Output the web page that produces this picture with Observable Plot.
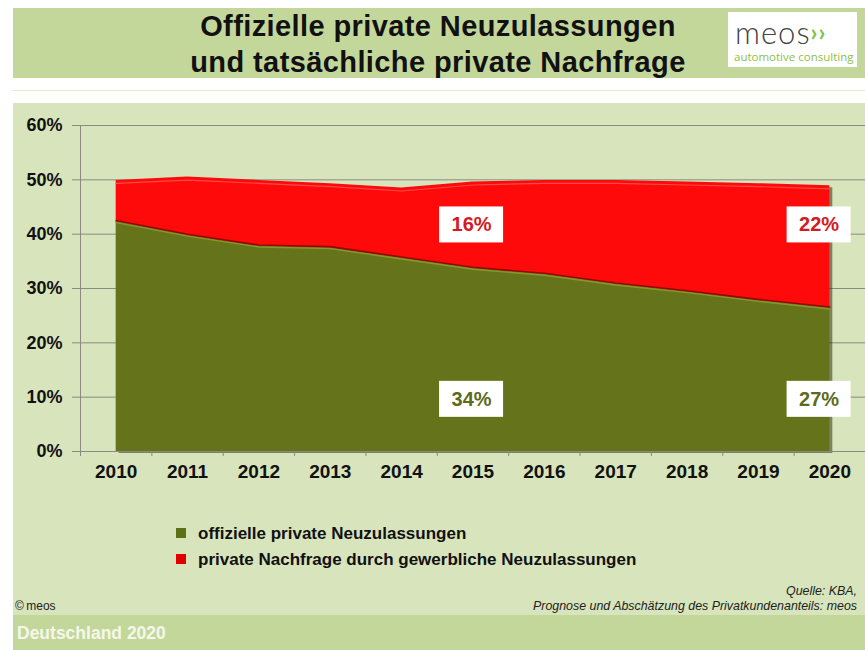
<!DOCTYPE html>
<html>
<head>
<meta charset="utf-8">
<script src="https://cdn.jsdelivr.net/npm/d3@7"></script>
<script src="https://cdn.jsdelivr.net/npm/@observablehq/plot@0.6"></script>
<style>
  html, body { margin: 0; padding: 0; background: #ffffff; }
  body { font-family: "Liberation Sans", Arial, sans-serif; }
  #page { position: relative; width: 865px; height: 650px; overflow: hidden; background: #ffffff; }
  .abs { position: absolute; }
  #titleband { left: 13px; top: 8px; width: 852px; height: 70px; background: #c4d79b; }
  #title { left: 0; top: 8px; width: 865px; height: 70px; }
  #title div { position: absolute; left: 0; width: 876px; text-align: center; font-weight: bold; font-size: 29px; line-height: 34px; color: #111; letter-spacing: 0.4px; }
  #strip1 { left: 13px; top: 90px; width: 852px; height: 1px; background: #e2e8cc; }
  #chartbg { left: 13px; top: 103px; width: 852px; height: 512px; background: #d8e4bc; }
  #footer { left: 13px; top: 615px; width: 852px; height: 35px; background: #c4d79b; }
  #footer span { position: absolute; left: 4px; top: 8px; color: #f4f8ea; font-size: 17.5px; font-weight: bold; }
  #logo { left: 728px; top: 12px; width: 129px; height: 55px; background: #ffffff; }
  #chart { left: 0; top: 104px; }
  .leg { position: absolute; left: 176px; font-size: 17px; font-weight: bold; color: #111; }
  .leg i { display: inline-block; width: 10px; height: 10px; margin-right: 12px; vertical-align: 1px; }
  .src { position: absolute; right: 8px; font-size: 12.4px; font-style: italic; color: #222; }
</style>
</head>
<body>
<div id="page">
  <div id="titleband" class="abs"></div>
  <div id="title" class="abs">
    <div style="top:1px">Offizielle private Neuzulassungen</div>
    <div style="top:37px">und tatsächliche private Nachfrage</div>
  </div>
  <div id="logo" class="abs">
    <div style="position:absolute;left:7px;top:6px;line-height:28px;font-family:Lato,'Open Sans',sans-serif;font-weight:300;font-size:31px;color:#444;letter-spacing:1px;">meos<span style="color:#7cc242;font-weight:bold;font-size:24px;vertical-align:3px;">&#8250;&#8250;</span></div>
    <div style="position:absolute;left:6px;top:38px;line-height:13px;font-family:'Open Sans',Lato,sans-serif;font-size:11.5px;color:#8cc04a;">automotive consulting</div>
  </div>
  <div id="strip1" class="abs"></div>
  <div id="chartbg" class="abs"></div>
  <div id="chart" class="abs"></div>
  <div class="leg" style="top:524px"><i style="background:#5f6f16"></i>offizielle private Neuzulassungen</div>
  <div class="leg" style="top:550px"><i style="background:#e00000"></i>private Nachfrage durch gewerbliche Neuzulassungen</div>
  <div class="src" style="top:584px">Quelle: KBA,</div>
  <div class="src" style="top:599px">Prognose und Abschätzung des Privatkundenanteils: meos</div>
  <div class="abs" style="left:15px;top:599px;font-size:12px;color:#222;">©&thinsp;meos</div>
  <div id="footer" class="abs"><span>Deutschland 2020</span></div>
</div>
<script>
// ---- data (percent of all new registrations) ----
const years = [2010, 2011, 2012, 2013, 2014, 2015, 2016, 2017, 2018, 2019, 2020];
const officialPrivate = [42.5, 40.0, 38.0, 37.7, 35.8, 33.9, 32.8, 31.0, 29.6, 28.0, 26.6];
const commercialPrivate = [7.4, 10.5, 11.9, 11.6, 12.7, 15.7, 17.1, 18.9, 20.0, 21.3, 22.3];
const seriesNames = ["offizielle private Neuzulassungen", "private Nachfrage durch gewerbliche Neuzulassungen"];
const yTicks = [0, 10, 20, 30, 40, 50, 60];
const labelYears = [2015, 2020];

// ---- tables built from the arrays ----
const table = years.flatMap((yr, i) => [
  {year: yr, series: seriesNames[0], value: officialPrivate[i]},
  {year: yr, series: seriesNames[1], value: commercialPrivate[i]}
]);
const totals = years.map((yr, i) => ({year: yr, official: officialPrivate[i], total: officialPrivate[i] + commercialPrivate[i]}));
const bounds = [...years.map(y => y - 0.5), years[years.length - 1] + 0.5];
const lastYear = years[years.length - 1];
const labelX = yr => yr === lastYear ? yr - 0.15 : yr - 0.02;
const redLabels = labelYears.map(yr => {
  const i = years.indexOf(yr);
  return {x: labelX(yr), y: 41.7, text: Math.round(commercialPrivate[i]) + "%"};
});
const greenLabels = labelYears.map(yr => {
  const i = years.indexOf(yr);
  return {x: labelX(yr), y: 9.6, text: Math.round(officialPrivate[i]) + "%"};
});
const allLabels = [...redLabels, ...greenLabels];

const plot = Plot.plot({
  width: 865,
  height: 390,
  marginTop: 21,
  marginBottom: 43,
  marginLeft: 80,
  marginRight: 0,
  style: {background: "transparent", fontFamily: "'Liberation Sans', Arial, sans-serif"},
  x: {type: "linear", domain: [bounds[0], bounds[bounds.length - 1]]},
  y: {domain: [0, 60]},
  color: {domain: seriesNames, range: ["#65731a", "#ff0a0a"]},
  marks: [
    Plot.gridY(yTicks, {stroke: "#8a8a80", strokeOpacity: 1}),
    // shadow
    Plot.areaY(totals, {x: "year", y: "total", fill: "#2f3210", fillOpacity: 0.55, dx: 3, dy: 2}),
    Plot.areaY(table, Plot.stackY({x: "year", y: "value", fill: "series", order: seriesNames})),
    Plot.lineY(totals, {x: "year", y: "total", stroke: "#ff4a4a", strokeWidth: 1.2, dy: 3}),
    Plot.lineY(totals, {x: "year", y: "official", stroke: "#a10000", strokeWidth: 1.6}),
    Plot.lineY(totals, {x: "year", y: "official", stroke: "#86982c", strokeWidth: 1.4, dy: 2}),
    Plot.ruleX([bounds[0]], {stroke: "#8a8a80"}),
    Plot.ruleY([0], {stroke: "#8a8a80"}),
    Plot.axisY({ticks: yTicks, tickSize: 8, tickPadding: 10, tickFormat: d => d + "%", label: null,
      stroke: "#8a8a80", fill: "#111", fontSize: 18, fontWeight: "bold"}),
    Plot.axisX({ticks: bounds, tickSize: 5, tickFormat: () => "", label: null, stroke: "#8a8a80"}),
    Plot.axisX({ticks: years, tickSize: 0, tickPadding: 13, tickFormat: d => String(d), label: null,
      fill: "#111", fontSize: 19, fontWeight: "bold"}),
    Plot.rect(allLabels, {x1: "x", x2: "x", y1: "y", y2: "y", fill: "white",
      insetLeft: -32, insetRight: -32, insetTop: -18, insetBottom: -18}),
    Plot.text(redLabels, {x: "x", y: "y", text: "text", fill: "#d41a22", fontSize: 20, fontWeight: "bold"}),
    Plot.text(greenLabels, {x: "x", y: "y", text: "text", fill: "#5c6b1c", fontSize: 20, fontWeight: "bold"})
  ]
});
document.getElementById("chart").appendChild(plot);
</script>
</body>
</html>
